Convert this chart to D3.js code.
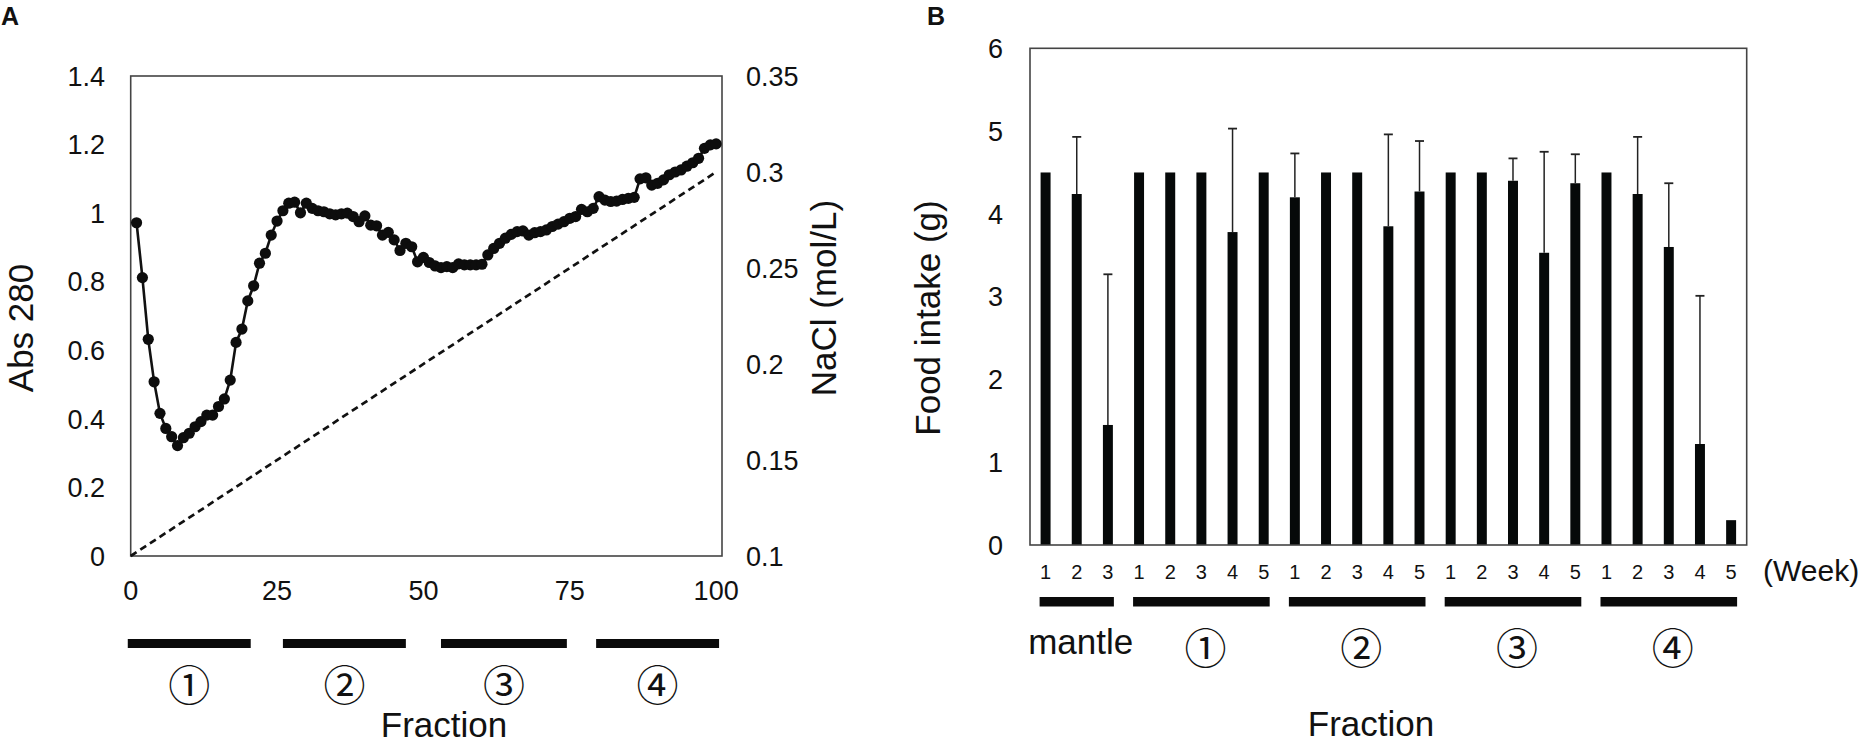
<!DOCTYPE html>
<html><head><meta charset="utf-8">
<script src="https://cdn.jsdelivr.net/npm/d3@7"></script>
<style>
body{margin:0;background:#fff}
svg{display:block}
text{font-family:"Liberation Sans",Arial,sans-serif;fill:#111}
.circ{font-family:"Noto Sans CJK JP","DejaVu Sans",sans-serif}
</style>
</head><body>
<svg id="c" width="1860" height="745"></svg>
<script>
// ---------- Panel A data ----------
const abs280 = [
 0.972,0.812,0.632,0.508,0.416,0.372,0.348,0.322,0.345,0.358,
 0.377,0.392,0.411,0.411,0.436,0.458,0.513,0.623,0.662,0.744,
 0.788,0.854,0.883,0.936,0.977,1.007,1.029,1.032,1.001,1.029,
 1.014,1.007,1.004,0.998,0.995,0.998,1.000,0.990,0.975,0.992,
 0.965,0.963,0.936,0.944,0.922,0.891,0.912,0.902,0.858,0.871,
 0.856,0.846,0.841,0.844,0.841,0.852,0.849,0.849,0.849,0.851,
 0.878,0.897,0.912,0.927,0.938,0.946,0.948,0.936,0.943,0.946,
 0.951,0.961,0.968,0.975,0.985,0.990,1.011,1.004,1.014,1.048,
 1.038,1.034,1.035,1.040,1.043,1.046,1.100,1.103,1.082,1.087,
 1.097,1.112,1.120,1.126,1.137,1.147,1.160,1.189,1.199,1.202
];
const naclFractions = [0, 100];
const naclValues = [0.1, 0.3];
const absTicks = [0,0.2,0.4,0.6,0.8,1,1.2,1.4];
const naclTicks = [0.1,0.15,0.2,0.25,0.3,0.35];
const fractionTicks = [0,25,50,75,100];
const poolLabels = ["①","②","③","④"];
const poolRanges = [[-0.5,20.5],[26,47],[53,74.5],[79.5,100.5]];

// ---------- Panel B data ----------
const groupNames = ["mantle","①","②","③","④"];
const groupSizes = [3,5,5,5,5];
const weekLabels = ["1","2","3","1","2","3","4","5","1","2","3","4","5","1","2","3","4","5","1","2","3","4","5"];
const intakeMean = [4.50,4.24,1.45, 4.50,4.50,4.50,3.78,4.50, 4.20,4.50,4.50,3.85,4.27, 4.50,4.50,4.40,3.53,4.37, 4.50,4.24,3.60,1.22,0.30];
const intakeSD   = [0,0.69,1.82, 0,0,0,1.25,0, 0.53,0,0,1.11,0.61, 0,0,0.27,1.22,0.35, 0,0.69,0.77,1.79,0];
const intakeTicks = [0,1,2,3,4,5,6];

const svg = d3.select("#c");
const fmt = v => String(+v.toFixed(2));

// ================= Panel A =================
const A = {l:130.7, r:722, t:76, b:556};
const xA = d3.scaleLinear().domain([0,101]).range([A.l, A.r]);
const yA = d3.scaleLinear().domain([0,1.4]).range([A.b, A.t]);
const yN = d3.scaleLinear().domain([0.1,0.35]).range([A.b, A.t]);

const gA = svg.append("g");
gA.append("rect").attr("x",A.l).attr("y",A.t).attr("width",A.r-A.l).attr("height",A.b-A.t)
  .attr("fill","none").attr("stroke","#444").attr("stroke-width",1.6);

// NaCl gradient dashed
gA.append("path")
  .datum(naclFractions.map((f,i)=>[f,naclValues[i]]))
  .attr("d", d3.line().x(d=>xA(d[0])).y(d=>yN(d[1])))
  .attr("fill","none").attr("stroke","#111").attr("stroke-width",2.7).attr("stroke-dasharray","7,4.5");

const absData = abs280.map((v,i)=>[i+1,v]);
gA.append("path").datum(absData)
  .attr("d", d3.line().x(d=>xA(d[0])).y(d=>yA(d[1])))
  .attr("fill","none").attr("stroke","#111").attr("stroke-width",2.6);
gA.selectAll("circle.pt").data(absData).join("circle")
  .attr("cx",d=>xA(d[0])).attr("cy",d=>yA(d[1])).attr("r",5.6).attr("fill","#0d0d0d");

// Left ticks
gA.selectAll("text.yl").data(absTicks).join("text")
  .attr("x",105).attr("y",d=>yA(d)).attr("dy","0.36em").attr("text-anchor","end")
  .attr("font-size",27).text(d=>fmt(d));
// Right ticks
gA.selectAll("text.yr").data(naclTicks).join("text")
  .attr("x",746).attr("y",d=>yN(d)).attr("dy","0.36em").attr("text-anchor","start")
  .attr("font-size",27).text(d=>fmt(d));
// X ticks
gA.selectAll("text.xt").data(fractionTicks).join("text")
  .attr("x",d=>xA(d)).attr("y",600).attr("text-anchor","middle")
  .attr("font-size",27).text(d=>d);

// pool bars
gA.selectAll("rect.pool").data(poolRanges).join("rect")
  .attr("x",d=>xA(d[0])).attr("y",639).attr("width",d=>xA(d[1])-xA(d[0])).attr("height",9)
  .attr("fill","#0a0a0a");
gA.selectAll("text.pl").data(poolRanges).join("text").attr("class","circ")
  .attr("x",d=>xA((d[0]+d[1])/2)).attr("y",682).attr("dominant-baseline","central")
  .attr("text-anchor","middle").attr("font-size",42).text((d,i)=>poolLabels[i]);

gA.append("text").attr("transform","translate(33,328) rotate(-90)").attr("text-anchor","middle")
  .attr("font-size",35).text("Abs 280");
gA.append("text").attr("transform","translate(836,298) rotate(-90)").attr("text-anchor","middle")
  .attr("font-size",35).text("NaCl (mol/L)");
gA.append("text").attr("x",444).attr("y",737).attr("text-anchor","middle").attr("font-size",35).text("Fraction");
gA.append("text").attr("x",1).attr("y",25).attr("font-size",25).attr("font-weight","bold").text("A");

// ================= Panel B =================
const B = {l:1030, r:1746.7, t:48.3, b:545};
const xB = d3.scaleBand().domain(d3.range(intakeMean.length)).range([B.l,B.r])
  .paddingInner(0.68).paddingOuter(0.34);
const yB = d3.scaleLinear().domain([0,6]).range([B.b,B.t]);
const bw = xB.bandwidth();
const gB = svg.append("g");

gB.selectAll("rect.bar").data(intakeMean).join("rect")
  .attr("x",(d,i)=>xB(i)).attr("y",d=>yB(d)).attr("width",bw).attr("height",d=>yB(0)-yB(d))
  .attr("fill","#060909");

const errs = intakeMean.map((m,i)=>({i,m,s:intakeSD[i]})).filter(d=>d.s>0);
gB.selectAll("line.eb").data(errs).join("line")
  .attr("x1",d=>xB(d.i)+bw/2).attr("x2",d=>xB(d.i)+bw/2)
  .attr("y1",d=>yB(d.m)).attr("y2",d=>yB(d.m+d.s))
  .attr("stroke","#222").attr("stroke-width",1.5);
gB.selectAll("line.cap").data(errs).join("line")
  .attr("x1",d=>xB(d.i)+bw/2-4.5).attr("x2",d=>xB(d.i)+bw/2+4.5)
  .attr("y1",d=>yB(d.m+d.s)).attr("y2",d=>yB(d.m+d.s))
  .attr("stroke","#222").attr("stroke-width",1.8);

gB.append("rect").attr("x",B.l).attr("y",B.t).attr("width",B.r-B.l).attr("height",B.b-B.t)
  .attr("fill","none").attr("stroke","#444").attr("stroke-width",1.6);

gB.selectAll("text.yt").data(intakeTicks).join("text")
  .attr("x",1003).attr("y",d=>yB(d)).attr("dy","0.36em").attr("text-anchor","end")
  .attr("font-size",27).text(d=>d);

gB.selectAll("text.wk").data(weekLabels).join("text")
  .attr("x",(d,i)=>xB(i)+bw/2).attr("y",579).attr("text-anchor","middle")
  .attr("font-size",20).text(d=>d);
gB.append("text").attr("x",1763).attr("y",581).attr("font-size",30).text("(Week)");

// group underline bars and labels
let start = 0;
const groupSpans = groupSizes.map(n=>{const s=[start,start+n-1]; start+=n; return s;});
gB.selectAll("rect.gb").data(groupSpans).join("rect")
  .attr("x",d=>xB(d[0])-1).attr("y",597).attr("width",d=>xB(d[1])+bw-xB(d[0])+2).attr("height",9.5)
  .attr("fill","#0a0a0a");
gB.selectAll("text.gl").data(groupSpans).join("text")
  .attr("class",(d,i)=>i>0?"circ":null)
  .attr("x",d=>(xB(d[0])+xB(d[1])+bw)/2+4)
  .attr("y",(d,i)=>i===0?654:645)
  .attr("dominant-baseline",(d,i)=>i===0?"auto":"central")
  .attr("text-anchor","middle").attr("font-size",(d,i)=>i===0?35:42)
  .text((d,i)=>groupNames[i]);

gB.append("text").attr("transform","translate(940,318) rotate(-90)").attr("text-anchor","middle")
  .attr("font-size",35).text("Food intake (g)");
gB.append("text").attr("x",1371).attr("y",736).attr("text-anchor","middle").attr("font-size",35).text("Fraction");
gB.append("text").attr("x",927).attr("y",25).attr("font-size",25).attr("font-weight","bold").text("B");
</script>
</body></html>
